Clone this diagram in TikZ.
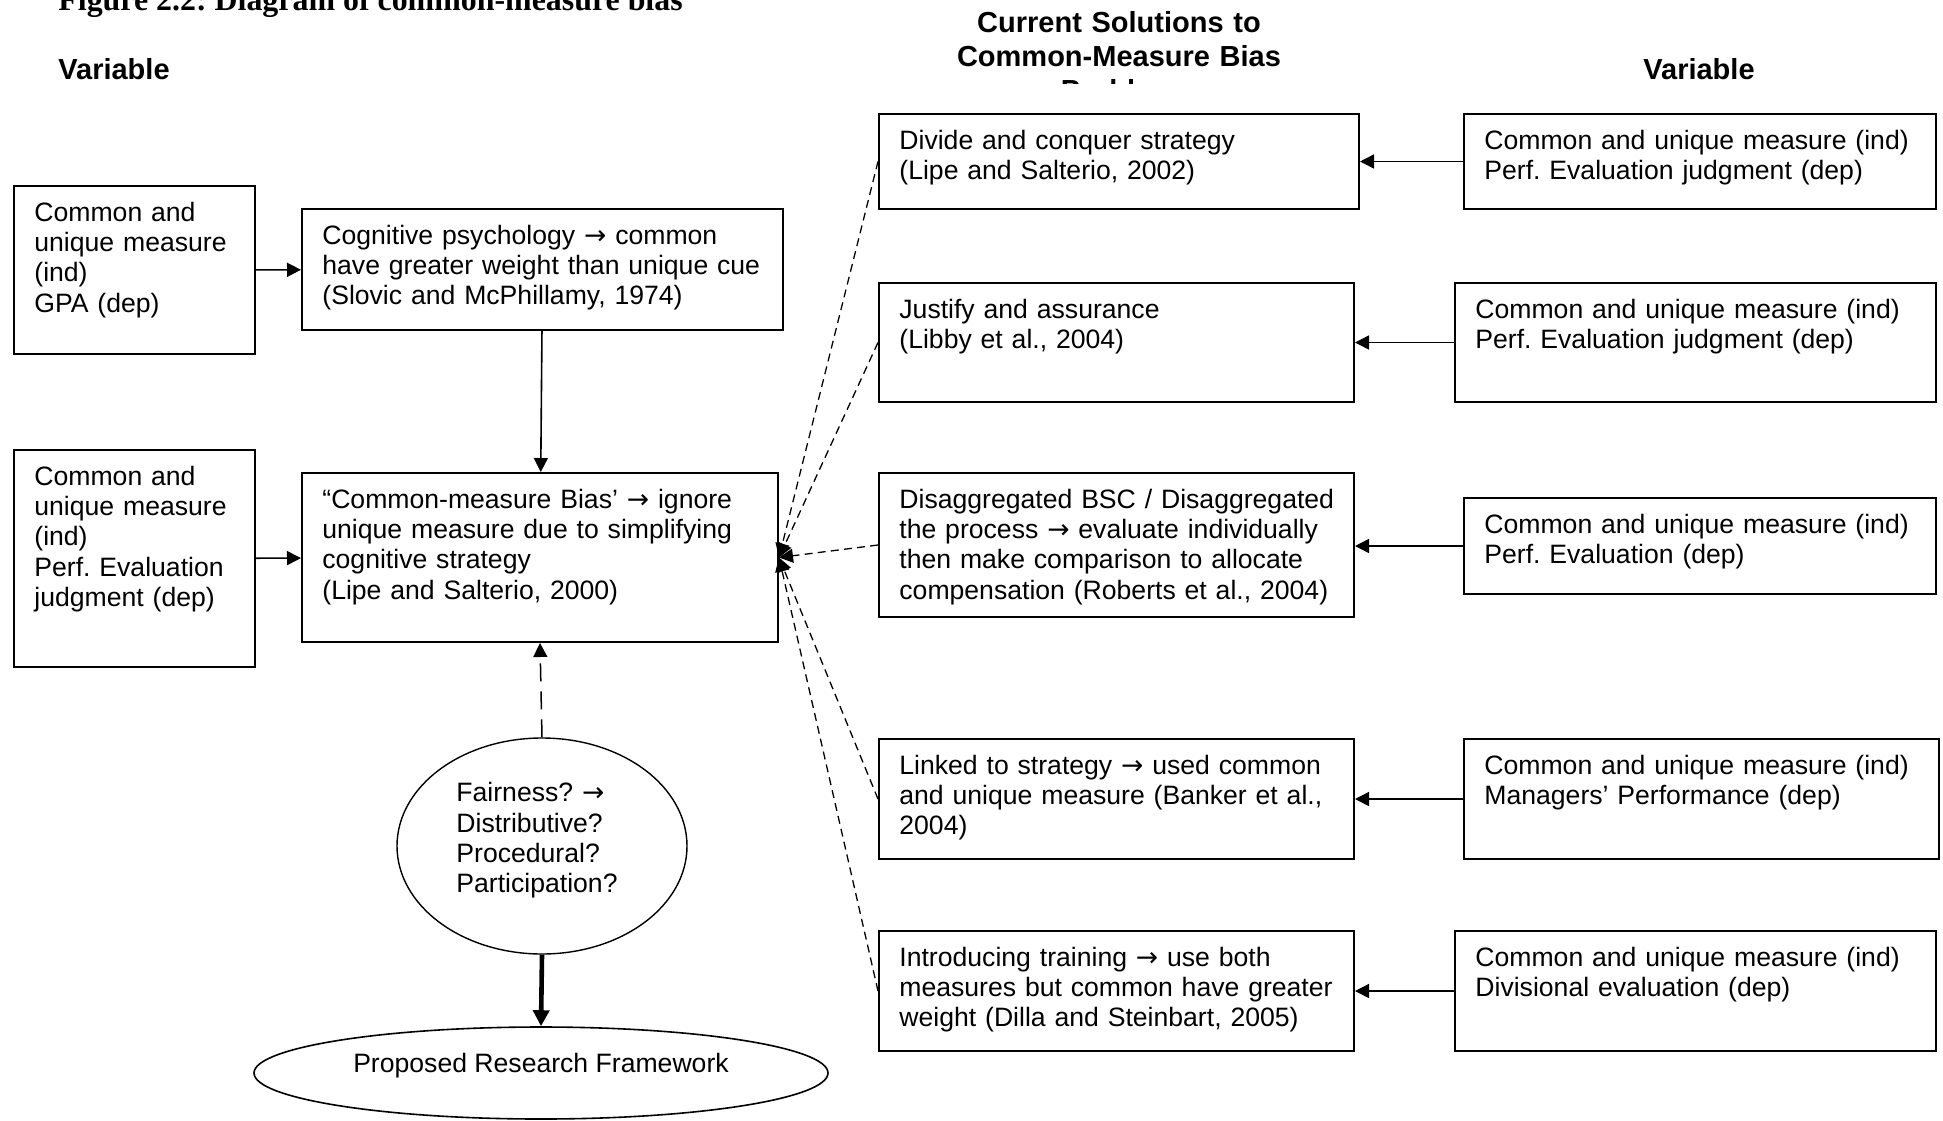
\documentclass[tikz,border=0pt]{standalone}
\usepackage{fontspec}
\setmainfont{Liberation Sans}
\newfontfamily\capfont{Liberation Serif}
\newfontfamily\arrowfont{DejaVu Sans}
\newcommand\rarr{{\arrowfont →}}
\frenchspacing
\usetikzlibrary{arrows.meta,shapes.geometric,fit,calc}
\begin{document}
\begin{tikzpicture}[x=0.5pt,y=-0.5pt,
  box/.style={draw, line width=1pt, inner sep=0pt, rectangle},
  txt/.style={anchor=base west, inner sep=0pt, align=left, text width=240pt,
    font=\fontsize{13.3}{15.2}\selectfont},
  head/.style={inner sep=0pt, font=\fontsize{14.5}{17}\selectfont\bfseries},
  link/.style={line width=0.8pt, -{Triangle[length=7pt,width=7pt]}},
  hint/.style={line width=0.65pt, dash pattern=on 4pt off 2.6pt,
    -{Triangle[length=7pt,width=7pt]}},
  oval/.style={draw, ellipse, inner sep=0pt}]
\useasboundingbox (0,0) rectangle (1943,1120);

% headings
\node[anchor=base west, inner sep=0pt,
  font=\capfont\fontsize{15.95}{19}\selectfont\bfseries] (fig) at (58,10)
  {Figure 2.2: Diagram of common-measure bias};
\node[head, anchor=base west] (varL) at (58,79) {Variable};
\node[head, anchor=base] (varR) at (1699,79) {Variable};
\begin{scope}
  \clip (800,0) rectangle (1450,83);
  \node[head, anchor=base, align=center, text width=300pt] (sol) at (1119,32)
    {Current Solutions to\\Common-Measure Bias\\Problem};
\end{scope}

% left column
\node[box, fit={(14,186) (255,354)}] (L1) {};
\node[box, fit={(14,450) (255,667)}] (L2) {};
\node[txt] (L1t) at ($(L1.north west)+(21,36)$)
  {Common and\\unique measure\\(ind)\\GPA (dep)};
\node[txt] (L2t) at ($(L2.north west)+(21,36)$)
  {Common and\\unique measure\\(ind)\\Perf. Evaluation\\judgment (dep)};

% centre column
\node[box, fit={(302,209) (783,330)}] (C1) {};
\node[box, fit={(302,473) (778,642)}] (C2) {};
\node[txt] (C1t) at ($(C1.north west)+(21,36)$)
  {Cognitive psychology \rarr{} common\\have greater weight than unique cue\\(Slovic and McPhillamy, 1974)};
\node[txt] (C2t) at ($(C2.north west)+(21,36)$)
  {“Common-measure Bias’ \rarr{} ignore\\unique measure due to simplifying\\cognitive strategy\\(Lipe and Salterio, 2000)};

\node[oval, line width=0.7pt, minimum width=145pt, minimum height=108pt] (fair) at (542,846) {};
\node[txt] (fairt) at (456,801.7)
  {Fairness? \rarr\\Distributive?\\Procedural?\\Participation?};
\node[oval, line width=0.8pt, minimum width=287pt, minimum height=46pt] (prop) at (541,1073) {};
\node[anchor=base, inner sep=0pt, font=\fontsize{13.3}{15.2}\selectfont] (propt) at (541,1072)
  {Proposed Research Framework};

% solutions
\node[box, fit={(879,114) (1359,209)}] (S1) {};
\node[box, fit={(879,283) (1354,402)}] (S2) {};
\node[box, fit={(879,473) (1354,617)}] (S3) {};
\node[box, fit={(879,739) (1354,859)}] (S4) {};
\node[box, fit={(879,931) (1354,1051)}] (S5) {};
\node[txt] (S1t) at ($(S1.north west)+(21,36)$)
  {Divide and conquer strategy\\(Lipe and Salterio, 2002)};
\node[txt] (S2t) at ($(S2.north west)+(21,36)$)
  {Justify and assurance\\(Libby et al., 2004)};
\node[txt] (S3t) at ($(S3.north west)+(21,36)$)
  {Disaggregated BSC / Disaggregated\\the process \rarr{} evaluate individually\\then make comparison to allocate\\compensation (Roberts et al., 2004)};
\node[txt] (S4t) at ($(S4.north west)+(21,36)$)
  {Linked to strategy \rarr{} used common\\and unique measure (Banker et al.,\\2004)};
\node[txt] (S5t) at ($(S5.north west)+(21,36)$)
  {Introducing training \rarr{} use both\\measures but common have greater\\weight (Dilla and Steinbart, 2005)};

% variables on the right
\node[box, fit={(1464,114) (1936,209)}] (V1) {};
\node[box, fit={(1455,283) (1936,402)}] (V2) {};
\node[box, fit={(1464,498) (1936,594)}] (V3) {};
\node[box, fit={(1464,739) (1939,859)}] (V4) {};
\node[box, fit={(1455,931) (1936,1051)}] (V5) {};
\node[txt] (V1t) at ($(V1.north west)+(21,36)$)
  {Common and unique measure (ind)\\Perf. Evaluation judgment (dep)};
\node[txt] (V2t) at ($(V2.north west)+(21,36)$)
  {Common and unique measure (ind)\\Perf. Evaluation judgment (dep)};
\node[txt] (V3t) at ($(V3.north west)+(21,36)$)
  {Common and unique measure (ind)\\Perf. Evaluation (dep)};
\node[txt] (V4t) at ($(V4.north west)+(21,36)$)
  {Common and unique measure (ind)\\Managers’ Performance (dep)};
\node[txt] (V5t) at ($(V5.north west)+(21,36)$)
  {Common and unique measure (ind)\\Divisional evaluation (dep)};

% connectors
\draw[link] (L1) -- (C1);
\draw[link] (L2) -- (C2);
\draw[link] (C1) -- (C2);
\draw[link] (V1) -- (S1);
\draw[link] (V2) -- (S2);
\draw[link] (V3.west) -- (S3.east |- V3.west);
\draw[link] (V4) -- (S4);
\draw[link] (V5) -- (S5);
\foreach \s in {S1,S2,S3,S4,S5}
  \draw[hint] (\s.west) -- (C2.east);
\draw[line width=0.75pt, dash pattern=on 9pt off 5pt,
  -{Triangle[length=7pt,width=7pt]}] (fair.north) -- (C2.south);
\draw[line width=2.3pt, -{Triangle[length=8pt,width=8pt]}] (fair.south) -- (prop.north);
\end{tikzpicture}
\end{document}
